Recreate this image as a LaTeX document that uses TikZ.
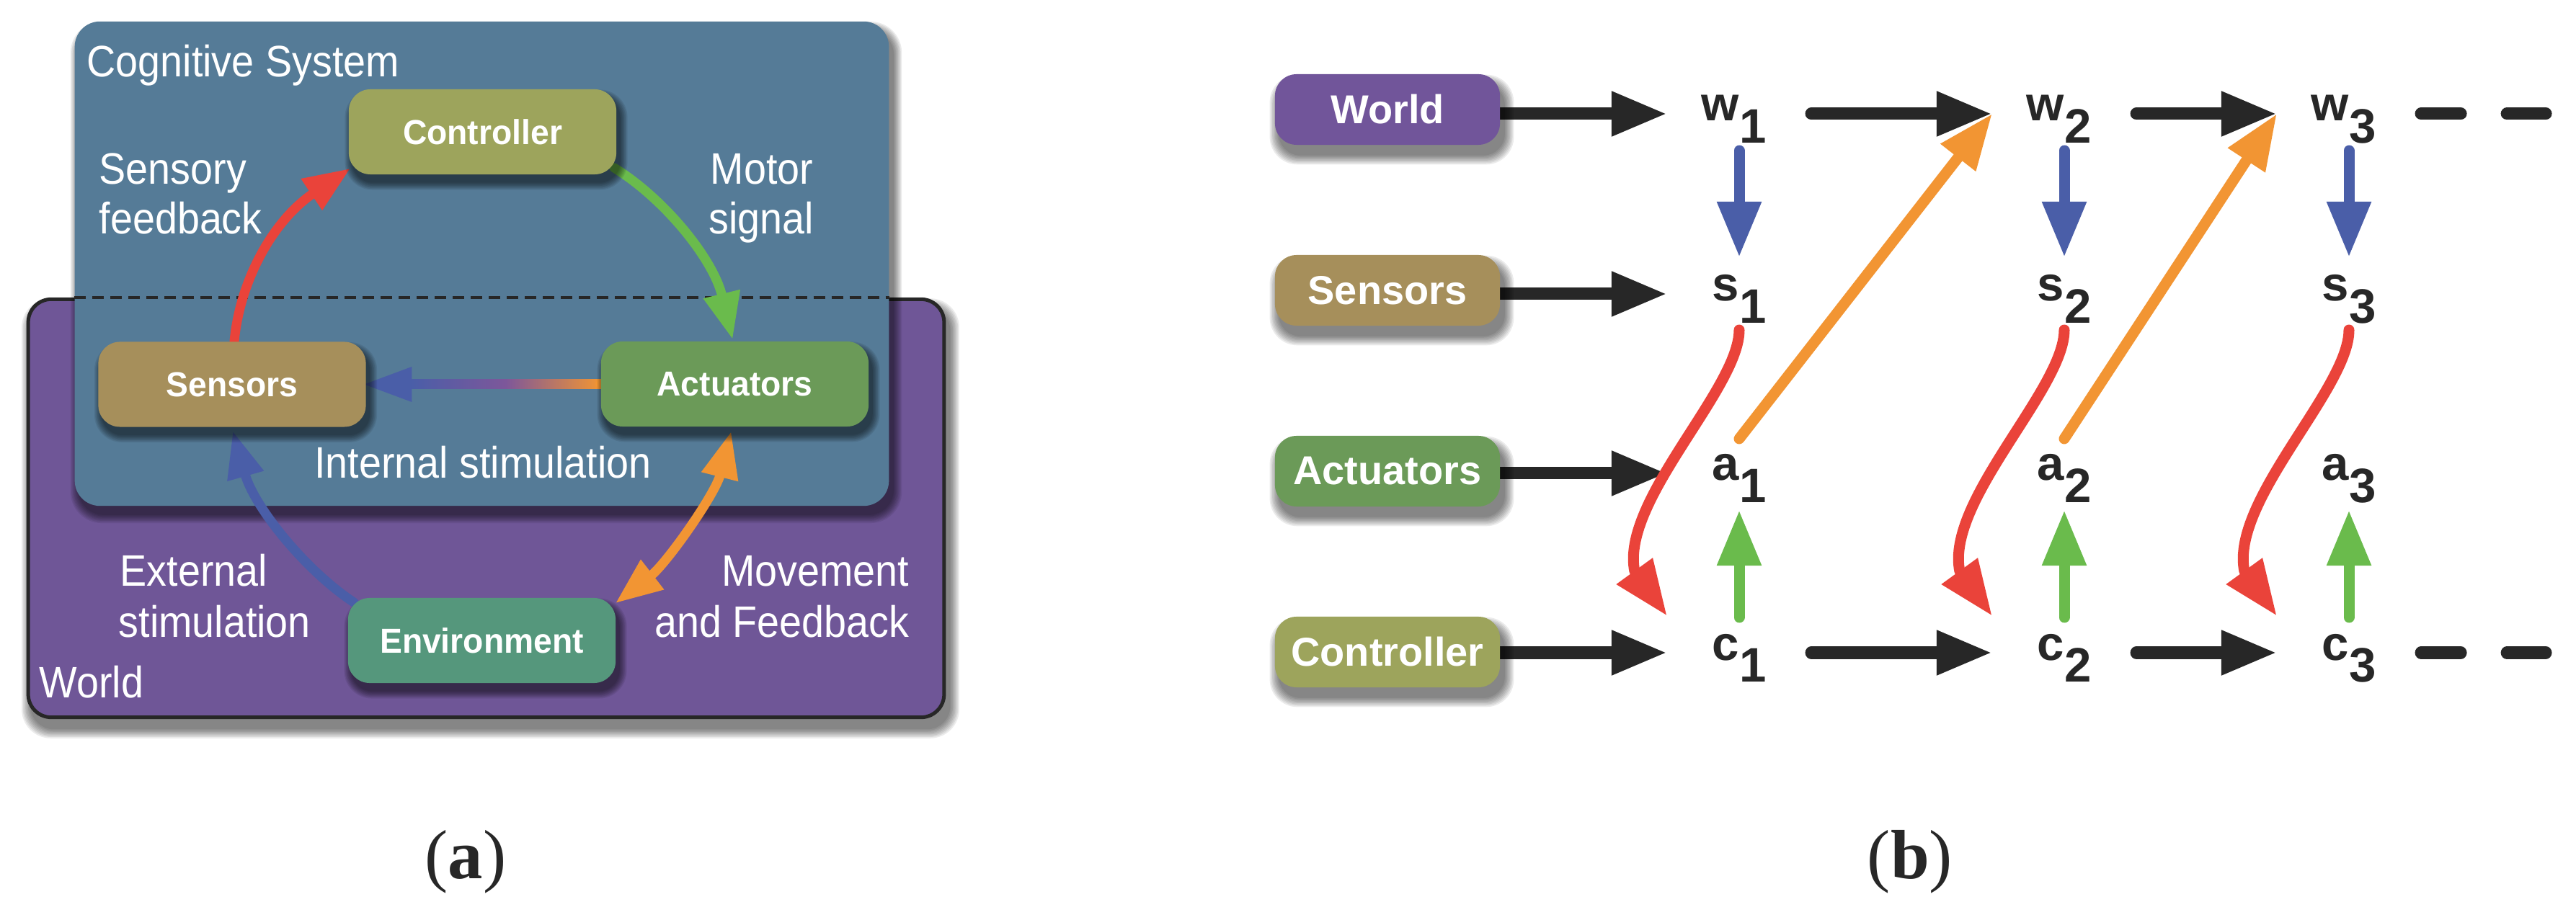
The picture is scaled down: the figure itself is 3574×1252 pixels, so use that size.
\documentclass[tikz,border=0pt]{standalone}
\usepackage{fontspec}
\setmainfont{Liberation Sans}
\newfontfamily\afont[FakeStretch=0.91]{Liberation Sans}
\newfontfamily\abfont[FakeStretch=0.96]{Liberation Sans}
\newfontfamily\capfont{Liberation Serif}
\usetikzlibrary{arrows.meta,calc}
\definecolor{cogblue}{HTML}{557B97}
\definecolor{worldpurple}{HTML}{6F5697}
\definecolor{ctlc}{HTML}{9DA45C}
\definecolor{senc}{HTML}{A68F5B}
\definecolor{actc}{HTML}{6B9A58}
\definecolor{envc}{HTML}{55977C}
\definecolor{wldc}{HTML}{71559A}
\definecolor{cred}{HTML}{EA433A}
\definecolor{cgreen}{HTML}{6ABB4C}
\definecolor{corange}{HTML}{F29533}
\definecolor{cblue}{HTML}{4A5EA8}
\definecolor{cpurple}{HTML}{7D579A}
\definecolor{dark}{HTML}{272727}
\pgfdeclarelayer{bgA}
\pgfdeclarelayer{bgB}
\pgfdeclarelayer{bgC}
\pgfdeclarelayer{bgD}
\pgfdeclarelayer{arr}
\pgfdeclarelayer{shad}
\pgfsetlayers{bgA,bgB,bgC,bgD,arr,shad,main}
% soft shadow: #1 node, #2 dx, #3 dy (units, down positive), #4 corner radius, #5 spread per step
\newcommand\dropshade[5]{%
  \foreach \k in {0,...,7}{%
    \fill[black, fill opacity=0.08, rounded corners={#4+\k*0.012cm}]
      ($(#1.south west)+({#2-\k*#5},{#3+\k*#5})$) rectangle ($(#1.north east)+({#2+\k*#5},{#3-\k*#5})$);
  }%
}
\tikzset{
  abox/.style={rectangle, rounded corners=0.3cm, minimum width=3.71cm, minimum height=1.18cm, inner sep=0pt,
    text=white, font=\abfont\bfseries\fontsize{13.7pt}{15pt}\selectfont},
  bbox/.style={rectangle, rounded corners=0.3cm, minimum width=3.12cm, minimum height=0.98cm, inner sep=0pt,
    text=white, font=\bfseries\fontsize{15.9pt}{17pt}\selectfont},
  var/.style={inner sep=0pt, outer sep=0pt, minimum width=2cm, text height=0.5cm, text depth=0.3cm,
    anchor=base, text=dark, font=\bfseries\fontsize{19.1pt}{21pt}\selectfont},
  lab/.style={inner sep=0pt, text=white, font=\afont\fontsize{17.4pt}{20pt}\selectfont},
  aarr/.style={line width=0.13cm, line cap=round, -{Triangle[length=0.65cm,width=0.49cm]}},
  aarrboth/.style={line width=0.13cm, {Triangle[length=0.65cm,width=0.49cm]}-{Triangle[length=0.65cm,width=0.49cm]}},
  barr/.style={line width=0.15cm, line cap=round, line join=round, -{Triangle[length=0.77cm,width=0.58cm]}},
  karr/.style={dark, line width=0.17cm, line cap=round, -{Triangle[length=0.77cm,width=0.58cm]}},
  kdash/.style={dark, line width=0.17cm, line cap=round, dash pattern=on 0.55cm off 0.64cm},
  capnode/.style={inner sep=0pt, anchor=base, text=dark, font=\capfont\fontsize{27.5pt}{30pt}\selectfont}
}
\begin{document}
\begin{tikzpicture}[x=0.01cm,y=-0.01cm]
\useasboundingbox (0,0) rectangle (3574,1252);
% ---------------- panel (a) regions
\begin{pgfonlayer}{bgB}
\node[rectangle, fill=worldpurple, draw=dark, line width=0.05cm, rounded corners=0.32cm,
  minimum width=12.70cm, minimum height=5.80cm, inner sep=0pt]
  (worldbox) at (674.5,705.5) {};
\end{pgfonlayer}
\begin{pgfonlayer}{bgA}
\dropshade{worldbox}{6}{14}{0.32cm}{1.8}
\end{pgfonlayer}
\begin{pgfonlayer}{bgD}
\node[rectangle, fill=cogblue, rounded corners=0.35cm,
  minimum width=11.29cm, minimum height=6.72cm, inner sep=0pt]
  (cogbox) at (668.5,366) {};
\draw[dark, line width=0.035cm, dash pattern=on 0.16cm off 0.09cm]
  (cogbox.west |- worldbox.north) -- (cogbox.east |- worldbox.north);
\end{pgfonlayer}
\begin{pgfonlayer}{bgC}
\dropshade{cogbox}{6}{12}{0.35cm}{1.6}
\end{pgfonlayer}
% labels (a)
\node[lab, anchor=base west] (cogtitle) at (120,107) {Cognitive System};
\node[lab, anchor=base west] (sf1) at (137,256) {Sensory};
\node[lab, anchor=base west] (sf2) at (137,325) {feedback};
\node[lab, anchor=base west] (ms1) at (985,256) {Motor};
\node[lab, anchor=base west] (ms2) at (983,325) {signal};
\node[lab, anchor=base] (intst) at (670,663) {Internal stimulation};
\node[lab, anchor=base west] (ex1) at (166,814) {External};
\node[lab, anchor=base west] (ex2) at (164,884) {stimulation};
\node[lab, anchor=base east] (mv1) at (1262,814) {Movement};
\node[lab, anchor=base east] (mv2) at (1262,884) {and Feedback};
\node[lab, anchor=base west] (worldlab) at (54,968) {World};
% nodes (a)
\node[abox, fill=ctlc] (ctl) at (669.5,183) {Controller};
\node[abox, fill=senc] (sen) at (322,533.5) {Sensors};
\node[abox, fill=actc] (act) at (1019.5,533) {Actuators};
\node[abox, fill=envc] (env) at (668.5,889) {Environment};
% ---------------- panel (b) nodes
\node[bbox, fill=wldc] (bworld) at (1925,152) {World};
\node[bbox, fill=senc] (bsen) at (1925,403) {Sensors};
\node[bbox, fill=actc] (bact) at (1925,654) {Actuators};
\node[bbox, fill=ctlc] (bctl) at (1925,905) {Controller};
\foreach \ci/\xx in {1/2413,2/2864,3/3259}{
  \foreach \lt/\yy in {w/168,s/418,a/667,c/916}{
    \node[var] (\lt\ci) at (\xx,\yy) {\llap{\lt}\rlap{\raisebox{-0.3cm}{\ci}}};
  }
}
% shadows of the boxes
\begin{pgfonlayer}{shad}
\foreach \nn in {ctl,sen,act,env}{\dropshade{\nn}{5}{11}{0.3cm}{1.4}}
\foreach \nn in {bworld,bsen,bact,bctl}{\dropshade{\nn}{6}{14}{0.3cm}{1.8}}
\end{pgfonlayer}
% arrows (a)
\begin{pgfonlayer}{arr}
\draw[aarr, cred] ($(sen.north)+(3,0)$) .. controls +(8,-85) and +(-107,72) .. ($(ctl.south west)+(3,-9)$);
\draw[aarr, cgreen] ($(ctl.south east)+(-4,-10)$) .. controls +(70,43) and +(-27,-112) .. ($(act.north)+(-3,-2)$);
\draw[aarr, cblue] ($(env.north west)+(9,7)$) .. controls +(-67,-44) and +(30,106) .. ($(sen.south)+(1,5)$);
\draw[aarrboth, corange] ($(act.south)+(-5,6)$) .. controls +(-22,87) and +(71,-55) .. ($(env.north east)+(-1,8)$);
\shade[left color=cblue, right color=corange, middle color=cpurple]
  ($(sen.east)+(62,-7)$) rectangle ($(act.west)+(0,7)$);
\fill[corange] (act.west) circle[radius=0.07cm];
\fill[cblue] ($(sen.east)+(-3,0)$) -- ++(66,-24.5) -- ++(0,49) -- cycle;
% arrows (b)
\draw[karr] (bworld.east |- w1.west) -- (w1.west);
\draw[karr] (bsen.east |- s1.west) -- (s1.west);
\draw[karr] (bact.east |- a1.west) -- (a1.west);
\draw[karr] (bctl.east |- c1.west) -- (c1.west);
\draw[karr] (w1.east) -- (w2.west);
\draw[karr] (w2.east) -- (w3.west);
\draw[karr] (c1.east) -- (c2.west);
\draw[karr] (c2.east) -- (c3.west);
\draw[kdash] (w3.east) -- ++(173,0);
\draw[kdash] (c3.east) -- ++(173,0);
\foreach \ci in {1,2,3}{
  \draw[barr, cblue] ($(w\ci.south)+(0,11)$) -- ($(s\ci.north)+(0,-11)$);
  \draw[barr, cgreen] ($(c\ci.north)+(0,-9)$) -- ($(a\ci.south)+(0,11)$);
  \draw[barr, cred] ($(s\ci.south)+(0,10)$) .. controls +(0,82) and +(-20,-98) .. ($(c\ci.west)+(-45,-113)$) -- ($(c\ci.west)+(0,-51)$);
}
\draw[barr, corange] ($(a1.north)+(0,-8)$) -- (w2.west);
\draw[barr, corange] ($(a2.north)+(0,-8)$) -- (w3.west);
\end{pgfonlayer}
% captions
\node[capnode] (capa) at (646,1219) {(\textbf{a})};
\node[capnode] (capb) at (2650,1219) {(\textbf{b})};
\end{tikzpicture}
\end{document}
